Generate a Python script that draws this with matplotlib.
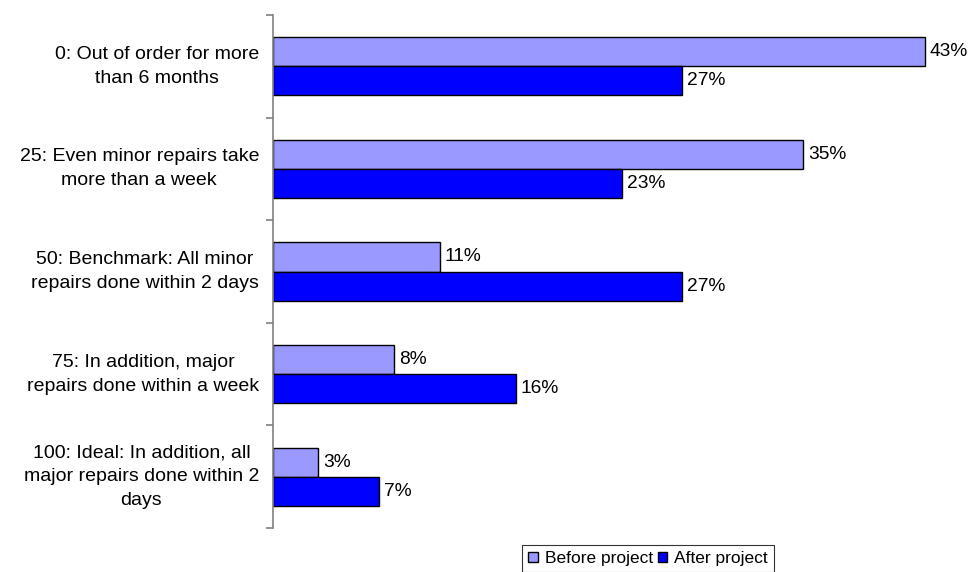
import matplotlib
matplotlib.use("Agg")
import matplotlib.pyplot as plt
from matplotlib.patches import Patch
import numpy as np

plt.rcParams['font.family'] = ['Liberation Sans', 'DejaVu Sans']

categories = [
    "0: Out of order for more\nthan 6 months",
    "25: Even minor repairs take\nmore than a week",
    "50: Benchmark: All minor\nrepairs done within 2 days",
    "75: In addition, major\nrepairs done within a week",
    "100: Ideal: In addition, all\nmajor repairs done within 2\ndays",
]
before = [43, 35, 11, 8, 3]
after = [27, 23, 27, 16, 7]
series_names = ["Before project", "After project"]
colors = ["#9999FF", "#0000FF"]

fig = plt.figure(figsize=(9.72, 5.72), dpi=100)
ax = fig.add_axes([273 / 972, 1 - 528 / 572, (952 - 273) / 972, (528 - 15) / 572])

n = len(categories)
y = np.arange(n)
h = 0.283
ax.barh(y - h / 2, before, height=h, color=colors[0], edgecolor="black", linewidth=1)
ax.barh(y + h / 2, after, height=h, color=colors[1], edgecolor="black", linewidth=1)

# value labels just right of each bar end
for ys, vals in ((y - h / 2, before), (y + h / 2, after)):
    for yi, v in zip(ys, vals):
        ax.annotate(f"{v}%", xy=(v, yi), xytext=(5, 0), textcoords="offset pixels",
                    va="center", ha="left", fontsize=13.8, color="black")

ax.set_ylim(n - 0.5, -0.5)
ax.set_xlim(0, 44.8)

for s in ["top", "right", "bottom"]:
    ax.spines[s].set_visible(False)
ax.spines["left"].set_color("#808080")
ax.spines["left"].set_linewidth(1.2)

ax.set_xticks([])
ax.set_yticks(np.arange(-0.5, n, 1.0))
ax.set_yticklabels([])
ax.tick_params(axis="y", length=5, width=1.2, color="#808080", direction="out")

# category labels, centred line by line, right edge left of the axis
for yi, lab in zip(y, categories):
    ax.annotate(lab, xy=(0, yi), xycoords=("axes fraction", "data"),
                xytext=(-14, 0), textcoords="offset pixels",
                ha="right", va="center", multialignment="center",
                fontsize=14, linespacing=1.55, color="black")

handles = [Patch(facecolor=c, edgecolor="black", linewidth=1) for c in colors]
leg = fig.legend(handles, series_names, loc="upper left", ncol=2,
                 bbox_to_anchor=(522 / 972, 1 - 545 / 572), fontsize=12.5,
                 frameon=True, fancybox=False, edgecolor="black",
                 handlelength=0.55, handleheight=0.55, handletextpad=0.4,
                 columnspacing=0.3, borderpad=0.35, borderaxespad=0)
leg.get_frame().set_linewidth(0.8)

fig.savefig("out.png", dpi=100)
